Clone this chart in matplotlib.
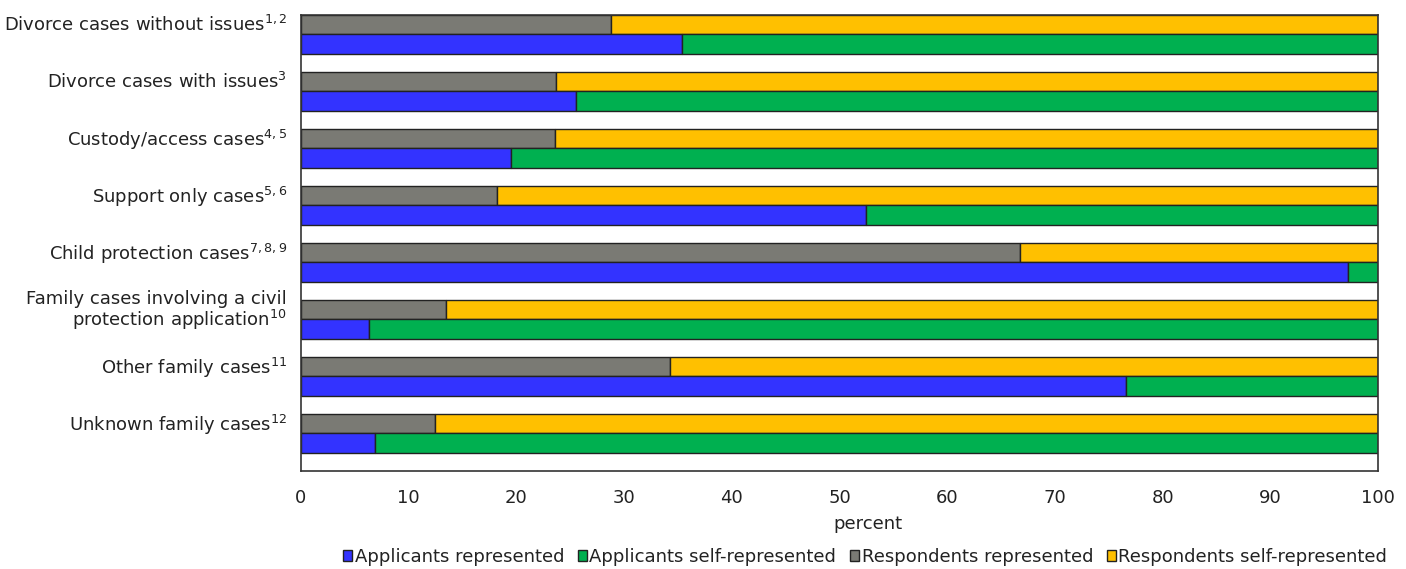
import matplotlib.pyplot as plt
from matplotlib.patches import Patch

plt.rcParams['font.family'] = ['DejaVu Sans']
plt.rcParams['mathtext.fontset'] = 'dejavusans'

categories = [
    r'Divorce cases without issues$^{1,2}$',
    r'Divorce cases with issues$^{3}$',
    r'Custody/access cases$^{4,5}$',
    r'Support only cases$^{5,6}$',
    r'Child protection cases$^{7,8,9}$',
    'Family cases involving a civil\n' + r'protection application$^{10}$',
    r'Other family cases$^{11}$',
    r'Unknown family cases$^{12}$',
]
applicants_represented = [35.4, 25.5, 19.5, 52.5, 97.2, 6.3, 76.6, 6.9]
respondents_represented = [28.8, 23.7, 23.6, 18.2, 66.8, 13.5, 34.3, 12.4]

applicants_self = [100 - v for v in applicants_represented]
respondents_self = [100 - v for v in respondents_represented]

c_blue = '#3333ff'
c_green = '#00b050'
c_gray = '#7a7a74'
c_yellow = '#ffc000'
edge = '#222222'
txt = '#222222'
fs = 13

fig = plt.figure(figsize=(14.06, 5.69), dpi=100)
ax = fig.add_axes([301 / 1406, 1 - 471 / 569, 1077 / 1406, 456 / 569])

n = len(categories)
ys = list(range(n))
bh = 0.34
ys_blue = [y + bh for y in ys]

kw = dict(height=bh, align='edge', edgecolor=edge, linewidth=1.0)
ax.barh(ys, respondents_represented, color=c_gray, **kw)
ax.barh(ys, respondents_self, left=respondents_represented, color=c_yellow, **kw)
ax.barh(ys_blue, applicants_represented, color=c_blue, **kw)
ax.barh(ys_blue, applicants_self, left=applicants_represented, color=c_green, **kw)

ax.set_xlim(0, 100)
ax.set_ylim(n, 0)
ax.set_xticks(range(0, 101, 10))
ax.set_yticks([y + 0.14 for y in ys])
ax.set_yticklabels(categories, fontsize=fs, color=txt, linespacing=1.0)
ax.tick_params(axis='both', length=0, colors=txt)
ax.tick_params(axis='y', pad=10)
ax.tick_params(axis='x', pad=13, labelsize=fs)
for s in ax.spines.values():
    s.set_color('#333333')
    s.set_linewidth(1.2)

ax.set_xlabel('percent', fontsize=fs, color=txt)
ax.xaxis.set_label_coords((868 - 301) / 1077, -0.097)

handles = [
    Patch(facecolor=c_blue, edgecolor=edge, label='Applicants represented'),
    Patch(facecolor=c_green, edgecolor=edge, label='Applicants self-represented'),
    Patch(facecolor=c_gray, edgecolor=edge, label='Respondents represented'),
    Patch(facecolor=c_yellow, edgecolor=edge, label='Respondents self-represented'),
]
fig.legend(handles=handles, loc='center', bbox_to_anchor=(865 / 1406, 1 - 557 / 569),
           ncol=4, frameon=False, fontsize=fs, handlelength=0.5, handleheight=0.6,
           handletextpad=0.15, columnspacing=0.75, labelcolor=txt)

fig.savefig('out.png', dpi=100)
